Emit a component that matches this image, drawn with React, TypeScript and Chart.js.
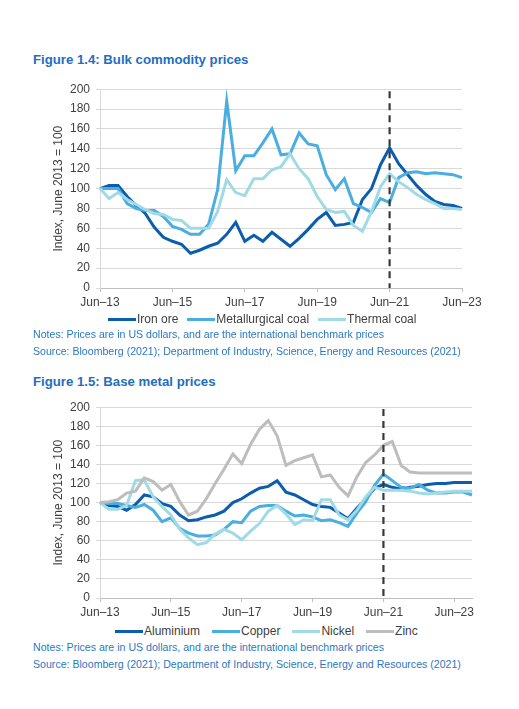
import React, { useEffect, useRef } from 'react';
import { Chart, registerables } from 'chart.js';

Chart.register(...registerables);

// quarterly, Jun-13 onwards
const quarters = [
  'Jun–13', 'Sep–13', 'Dec–13', 'Mar–14', 'Jun–14', 'Sep–14', 'Dec–14', 'Mar–15',
  'Jun–15', 'Sep–15', 'Dec–15', 'Mar–16', 'Jun–16', 'Sep–16', 'Dec–16', 'Mar–17',
  'Jun–17', 'Sep–17', 'Dec–17', 'Mar–18', 'Jun–18', 'Sep–18', 'Dec–18', 'Mar–19',
  'Jun–19', 'Sep–19', 'Dec–19', 'Mar–20', 'Jun–20', 'Sep–20', 'Dec–20', 'Mar–21',
  'Jun–21', 'Sep–21', 'Dec–21', 'Mar–22', 'Jun–22', 'Sep–22', 'Dec–22', 'Mar–23',
  'Jun–23', 'Sep–23', 'Dec–23'
];
const bulkLabels = quarters.slice(0, 41);
const metalLabels = quarters;
const forecastStart = 'Jun–21';

// Figure 1.4
const ironOre = [100, 103, 103, 92, 83, 75, 61, 51, 47, 44, 35, 38, 42, 45, 54, 66, 47, 53, 47, 56, 49, 42, 50, 59, 69, 76, 63, 64, 66, 89, 100, 124, 141, 125, 114, 103, 94, 87, 84, 83, 80];
const metCoal = [100, 100, 100, 85, 80, 78, 78, 72, 62, 59, 54, 54, 64, 99, 188, 118, 133, 133, 146, 160, 134, 135, 156, 145, 143, 114, 99, 110, 85, 81, 76, 90, 86, 111, 116, 117, 115, 116, 115, 114, 111];
const thermalCoal = [100, 90, 96, 89, 84, 79, 75, 74, 69, 68, 60, 60, 60, 77, 109, 96, 93, 110, 110, 119, 122, 135, 120, 110, 92, 79, 76, 77, 63, 57, 77, 102, 115, 107, 101, 94, 89, 85, 80, 80, 79];

// Figure 1.5
const aluminium = [100, 97, 96, 92, 98, 108, 106, 99, 96, 87, 81, 82, 85, 87, 91, 100, 104, 110, 115, 117, 123, 111, 108, 103, 98, 96, 95, 89, 83, 94, 104, 115, 119, 116, 114, 116, 117, 119, 120, 120, 121, 121, 121];
const copper = [100, 99, 99, 97, 95, 98, 92, 80, 84, 73, 68, 65, 65, 66, 72, 80, 79, 91, 96, 97, 97, 91, 86, 87, 85, 81, 82, 79, 75, 89, 101, 118, 130, 123, 116, 115, 119, 113, 110, 110, 111, 111, 108];
const nickel = [100, 93, 93, 97, 123, 124, 106, 96, 87, 72, 63, 56, 58, 67, 72, 68, 61, 70, 78, 91, 97, 88, 77, 82, 81, 103, 103, 87, 82, 92, 106, 116, 113, 113, 113, 112, 110, 109, 110, 111, 112, 112, 112];
const zinc = [100, 101, 103, 110, 112, 126, 122, 113, 119, 101, 87, 91, 104, 120, 135, 151, 141, 161, 177, 186, 170, 139, 144, 147, 150, 127, 129, 116, 107, 127, 142, 150, 160, 164, 139, 132, 131, 131, 131, 131, 131, 131, 131];

const DARK = '#0B5DAE';
const MID = '#4AAEE0';
const LIGHT = '#A0DAE5';
const GREY = '#BDBDBD';
const TEXT = '#404040';
const BLUE_TEXT = '#1F6EBF';
const FONT = '"Liberation Sans", Arial, sans-serif';

interface Series {
  label: string;
  data: number[];
  color: string;
}

const bulkSeries: Series[] = [
  { label: 'Iron ore', data: ironOre, color: DARK },
  { label: 'Metallurgical coal', data: metCoal, color: MID },
  { label: 'Thermal coal', data: thermalCoal, color: LIGHT }
];

const metalSeries: Series[] = [
  { label: 'Aluminium', data: aluminium, color: DARK },
  { label: 'Copper', data: copper, color: MID },
  { label: 'Nickel', data: nickel, color: LIGHT },
  { label: 'Zinc', data: zinc, color: GREY }
];

interface LineChartProps {
  labels: string[];
  series: Series[];
  top: number;
  height: number;
  rightPad: number;
}

const LineChart: React.FC<LineChartProps> = ({ labels, series, top, height, rightPad }) => {
  const canvasRef = useRef<HTMLCanvasElement>(null);

  useEffect(() => {
    if (!canvasRef.current) return;
    const markerIndex = labels.indexOf(forecastStart);

    const forecastLine = {
      id: 'forecastLine',
      afterDatasetsDraw(chart: Chart) {
        const { ctx, scales } = chart;
        const x = scales.x.getPixelForValue(markerIndex);
        ctx.save();
        ctx.strokeStyle = '#3A3A3A';
        ctx.lineWidth = 2.2;
        ctx.setLineDash([7, 5]);
        ctx.beginPath();
        ctx.moveTo(x, scales.y.getPixelForValue(198));
        ctx.lineTo(x, scales.y.getPixelForValue(0));
        ctx.stroke();
        ctx.restore();
      }
    };

    const chart = new Chart(canvasRef.current, {
      type: 'line',
      data: {
        labels,
        datasets: series.map((s, i) => ({
          label: s.label,
          data: s.data,
          borderColor: s.color,
          backgroundColor: s.color,
          borderWidth: 3,
          pointRadius: 0,
          tension: 0,
          order: series.length - i
        }))
      },
      options: {
        responsive: false,
        animation: false,
        layout: { padding: { top: 10, right: rightPad, bottom: 0, left: 0 } },
        plugins: {
          legend: { display: false },
          tooltip: { enabled: false }
        },
        scales: {
          x: {
            type: 'category',
            offset: false,
            grid: {
              drawOnChartArea: false,
              drawTicks: true,
              tickLength: 4,
              color: (ctx: any) => (ctx.index % 8 === 0 ? '#BFBFBF' : 'rgba(0,0,0,0)')
            },
            border: { color: '#BFBFBF' },
            ticks: {
              autoSkip: false,
              maxRotation: 0,
              padding: 3,
              color: TEXT,
              font: { family: FONT, size: 12 },
              callback: (_v: any, i: number) => (i % 8 === 0 ? labels[i] : '')
            },
            afterFit: (scale: any) => {
              scale.height = 25;
            }
          },
          y: {
            min: 0,
            max: 200,
            ticks: {
              stepSize: 20,
              padding: 6,
              color: TEXT,
              font: { family: FONT, size: 12 }
            },
            grid: { color: '#D9D9D9', tickLength: 4 },
            border: { color: '#D9D9D9' },
            title: {
              display: true,
              text: 'Index, June 2013 = 100',
              color: TEXT,
              font: { family: FONT, size: 12 },
              padding: { top: 51, bottom: 0 }
            },
            afterFit: (scale: any) => {
              scale.width = 100;
            }
          }
        }
      },
      plugins: [forecastLine]
    } as any);

    return () => {
      chart.destroy();
    };
  }, [labels, series, rightPad]);

  return (
    <canvas
      ref={canvasRef}
      width={519}
      height={height}
      style={{ position: 'absolute', left: 0, top, width: 519, height }}
    />
  );
};

const Legend: React.FC<{ series: Series[]; left: number; top: number; gap: number }> = ({ series, left, top, gap }) => (
  <div
    style={{
      position: 'absolute',
      left,
      top,
      display: 'flex',
      alignItems: 'center',
      fontFamily: FONT,
      fontSize: 12,
      color: TEXT,
      whiteSpace: 'nowrap'
    }}
  >
    {series.map((s) => (
      <div key={s.label} style={{ display: 'flex', alignItems: 'center', marginRight: gap }}>
        <span style={{ display: 'inline-block', width: 28, height: 3, background: s.color, marginRight: 1 }} />
        <span>{s.label}</span>
      </div>
    ))}
  </div>
);

const titleStyle = (top: number): React.CSSProperties => ({
  position: 'absolute',
  left: 33,
  top,
  fontFamily: FONT,
  fontSize: 13.2,
  fontWeight: 'bold',
  color: BLUE_TEXT,
  whiteSpace: 'nowrap'
});

const noteStyle = (top: number): React.CSSProperties => ({
  position: 'absolute',
  left: 33,
  top,
  fontFamily: FONT,
  fontSize: 10.6,
  lineHeight: '12px',
  color: '#2B78C2',
  whiteSpace: 'nowrap'
});

const NOTES = 'Notes: Prices are in US dollars, and are the international benchmark prices';
const SOURCE = 'Source: Bloomberg (2021); Department of Industry, Science, Energy and Resources (2021)';

export default function App() {
  return (
    <div style={{ position: 'absolute', left: 0, top: 0, width: 519, height: 709, background: '#fff' }}>
      <div style={titleStyle(52)}>Figure 1.4: Bulk commodity prices</div>
      <LineChart labels={bulkLabels} series={bulkSeries} top={76} height={237} rightPad={57} />
      <Legend series={bulkSeries} left={108} top={312} gap={9} />
      <div style={noteStyle(328)}>{NOTES}</div>
      <div style={noteStyle(345)}>{SOURCE}</div>

      <div style={titleStyle(374)}>Figure 1.5: Base metal prices</div>
      <LineChart labels={metalLabels} series={metalSeries} top={394} height={229} rightPad={47} />
      <Legend series={metalSeries} left={115} top={624} gap={12} />
      <div style={noteStyle(641)}>{NOTES}</div>
      <div style={noteStyle(658)}>{SOURCE}</div>
    </div>
  );
}
